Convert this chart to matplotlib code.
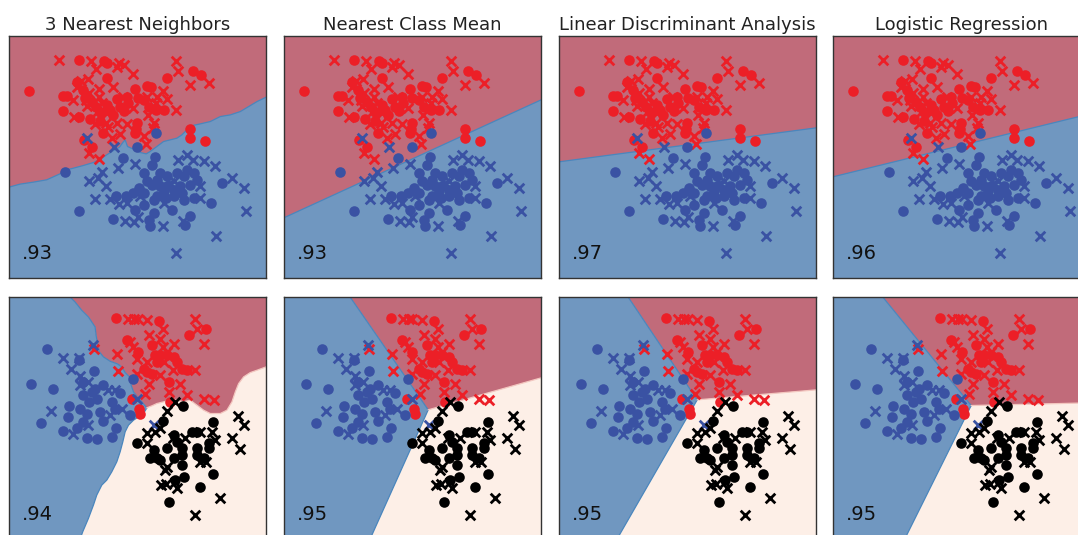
import numpy as np
import matplotlib
matplotlib.use("Agg")
import matplotlib.pyplot as plt

titles = ["3 Nearest Neighbors", "Nearest Class Mean",
          "Linear Discriminant Analysis", "Logistic Regression"]
scores_top = [".93", ".93", ".97", ".96"]
scores_bot = [".94", ".95", ".95", ".95"]

top_red_o = [(237, 180), (313, 183), (320, 190), (578, 213), (603, 224), (500, 234), (322, 233),
             (230, 245), (250, 270), (404, 268), (440, 258), (452, 262), (87, 272), (188, 287),
             (200, 288), (380, 290), (412, 295), (350, 298), (320, 315), (188, 332), (238, 350),
             (372, 332), (445, 320), (468, 330), (492, 330), (270, 358), (300, 362), (410, 368),
             (408, 388), (310, 400), (406, 398), (252, 420), (275, 440), (570, 386), (570, 413),
             (615, 422), (288, 320), (300, 335), (330, 330), (360, 320), (255, 295), (275, 305),
             (340, 345), (385, 310), (430, 300)]
top_red_x = [(178, 180), (272, 183), (288, 208), (358, 190), (372, 195), (352, 200), (398, 222),
             (528, 184), (534, 212), (570, 255), (626, 250), (265, 237), (244, 242), (230, 262),
             (296, 268), (268, 278), (340, 260), (488, 272), (470, 290), (220, 300), (258, 300),
             (296, 290), (370, 292), (440, 290), (500, 298), (468, 308), (305, 310), (260, 318),
             (222, 350), (290, 335), (320, 340), (400, 323), (528, 330), (442, 345), (285, 372),
             (318, 368), (352, 368), (380, 372), (462, 368), (458, 385), (325, 380), (360, 403),
             (432, 408), (335, 415), (437, 432), (298, 478), (268, 458)]
top_blue_o = [(467, 400), (410, 440), (194, 518), (237, 633), (339, 657), (370, 475), (347, 590),
              (378, 590), (405, 630), (430, 615), (415, 565), (440, 545), (455, 555), (450, 678),
              (470, 590), (497, 595), (480, 520), (500, 530), (465, 470), (432, 520), (455, 495),
              (560, 510), (570, 555), (550, 600), (580, 595), (632, 610), (665, 550), (568, 648),
              (555, 675), (515, 630), (460, 640), (445, 660), (520, 570), (540, 560), (500, 560),
              (480, 560), (530, 520), (550, 530), (590, 540), (520, 590), (460, 600), (430, 580),
              (400, 580), (580, 520), (545, 580), (490, 575), (470, 540)]
top_blue_x = [(262, 415), (343, 440), (354, 505), (405, 492), (268, 545), (305, 518), (295, 535),
              (285, 597), (318, 558), (330, 597), (357, 612), (375, 665), (403, 668), (412, 652),
              (488, 680), (520, 545), (532, 480), (560, 465), (578, 480), (610, 485), (645, 500),
              (600, 595), (695, 535), (732, 565), (737, 635), (648, 710), (527, 760), (548, 665),
              (380, 610), (420, 590), (510, 550), (490, 610), (600, 560)]

bot_red_o = [(348, 97), (477, 108), (617, 130), (567, 150), (380, 165), (455, 180), (412, 200),
             (465, 210), (480, 210), (500, 210), (520, 215), (430, 250), (440, 260), (545, 250),
             (560, 255), (455, 265), (505, 290), (510, 350), (397, 342), (415, 370), (418, 385),
             (470, 230), (530, 230)]
bot_red_x = [(385, 100), (402, 100), (412, 100), (440, 103), (583, 100), (590, 130), (612, 175),
             (488, 130), (445, 150), (390, 170), (478, 160), (488, 185), (520, 175), (500, 200),
             (352, 207), (282, 190), (410, 220), (440, 230), (490, 230), (518, 255), (585, 255),
             (355, 257), (410, 265), (445, 295), (480, 270), (540, 295), (505, 320), (560, 330),
             (612, 340), (640, 345), (435, 325), (400, 185)]
bot_blue_o = [(140, 190), (238, 225), (282, 258), (94, 297), (158, 312), (248, 290), (275, 320),
              (310, 298), (290, 340), (360, 322), (335, 350), (345, 370), (390, 390), (206, 362),
              (205, 395), (240, 370), (260, 385), (268, 350), (250, 410), (123, 415), (190, 437),
              (230, 430), (262, 458), (292, 462), (310, 408), (335, 455), (348, 428), (400, 280),
              (300, 380), (285, 310), (250, 330)]
bot_blue_x = [(190, 218), (238, 218), (212, 252), (240, 272), (265, 290), (325, 315), (345, 315),
              (365, 370), (153, 377), (265, 420), (218, 448), (280, 178), (410, 340), (460, 420),
              (240, 300), (330, 390)]
bot_black_o = [(548, 362), (487, 407), (410, 475), (460, 495), (520, 450), (530, 470), (500, 490),
               (545, 490), (575, 440), (590, 440), (638, 410), (625, 475), (625, 490), (590, 490),
               (590, 510), (610, 520), (520, 520), (545, 510), (470, 520), (450, 520), (480, 525),
               (545, 540), (550, 575), (525, 585), (600, 605), (638, 568), (507, 650)]
bot_black_x = [(500, 377), (525, 350), (465, 440), (440, 445), (478, 430), (440, 475), (517, 460),
               (555, 460), (600, 440), (635, 440), (645, 465), (600, 530), (500, 545), (495, 555),
               (525, 590), (483, 600), (497, 598), (530, 610), (660, 640), (583, 690), (712, 392),
               (730, 420), (695, 460), (720, 492), (618, 530)]

# decision boundaries, top row: red above the line
top_bounds = [
    [(27, 562), (60, 553), (100, 547), (140, 540), (180, 522), (200, 510), (220, 505), (250, 497),
     (280, 488), (300, 478), (320, 465), (340, 452), (358, 442), (368, 428), (375, 420), (382, 440),
     (400, 448), (420, 458), (438, 462), (450, 455), (470, 440), (490, 425), (510, 420), (530, 415),
     (545, 405), (558, 392), (572, 378), (600, 372), (630, 365), (660, 350), (690, 345), (720, 335),
     (745, 320), (770, 305), (797, 292)],
    [(27, 654), (797, 300)],
    [(27, 486), (797, 384)],
    [(27, 531), (797, 342)],
]
# bottom row: blue/red edge (top -> junction), red/cream edge (junction -> right), blue/cream edge (junction -> bottom)
bot_blue_red = [
    [(210, 35), (225, 50), (245, 75), (265, 95), (275, 110), (285, 125), (288, 150), (292, 175),
     (298, 200), (310, 215), (330, 228), (352, 236), (365, 245), (375, 262), (388, 275), (393, 300),
     (400, 320), (412, 335), (425, 350), (440, 368)],
    [(225, 35), (459, 374)],
    [(234, 35), (441, 344)],
    [(176, 35), (441, 361)],
]
bot_red_cream = [
    [(440, 368), (455, 362), (470, 355), (490, 350), (510, 345), (530, 345), (550, 350), (570, 345),
     (590, 360), (610, 375), (630, 385), (660, 385), (680, 375), (695, 350), (705, 320), (715, 295),
     (730, 275), (750, 262), (770, 255), (797, 245)],
    [(459, 374), (797, 278)],
    [(441, 344), (797, 314)],
    [(441, 361), (797, 353)],
]
bot_blue_cream = [
    [(440, 368), (430, 385), (415, 395), (400, 405), (385, 420), (375, 440), (368, 470), (360, 500),
     (350, 530), (335, 560), (320, 585), (305, 600), (290, 630), (280, 660), (265, 700), (248, 740),
     (240, 762)],
    [(459, 374), (285, 762)],
    [(441, 344), (201, 762)],
    [(441, 361), (242, 762)],
]

RED_BG, BLUE_BG, CREAM_BG = "#c16b7a", "#7097c0", "#fdefe7"
RED, BLUE, BLACK = "#ec1f27", "#3a52a3", "#000000"
EDGE = "#4a86bd"

W, H = 1078, 535
lefts = [9, 284, 559, 833]
pw, ph = 257, 242

fig = plt.figure(figsize=(W / 100, H / 100), dpi=100)


def pts(a):
    a = np.array(a, dtype=float)
    return a[:, 0], a[:, 1]


def scatter_all(ax, groups):
    for data, color, marker in groups:
        x, y = pts(data)
        if marker == "o":
            ax.scatter(x, y, s=58, c=color, marker="o", linewidths=0, zorder=3)
        else:
            ax.scatter(x, y, s=48, c=color, marker="x", linewidths=2.0, zorder=3)


def style(ax, ymin, ymax):
    ax.set_xlim(27, 797)
    ax.set_ylim(ymax, ymin)
    ax.set_xticks([])
    ax.set_yticks([])
    for sp in ax.spines.values():
        sp.set_color("#333333")
        sp.set_linewidth(1.0)


for i in range(4):
    # top row
    ax = fig.add_axes([lefts[i] / W, 1 - (36 + ph) / H, pw / W, ph / H])
    ax.set_facecolor(BLUE_BG)
    bx, by = pts(top_bounds[i])
    ax.fill(np.r_[bx, 797, 27], np.r_[by, 108, 108], color=RED_BG, lw=0, zorder=1)
    ax.plot(bx, by, color=EDGE, lw=0.9, zorder=2)
    scatter_all(ax, [(top_red_o, RED, "o"), (top_red_x, RED, "x"),
                     (top_blue_o, BLUE, "o"), (top_blue_x, BLUE, "x")])
    style(ax, 108, 835)
    ax.set_title(titles[i], fontsize=13, pad=4, color="#222222")
    ax.text(0.05, 0.06, scores_top[i], transform=ax.transAxes, fontsize=14,
            ha="left", va="bottom", color="#111111")

    # bottom row
    ax = fig.add_axes([lefts[i] / W, 1 - (297 + ph) / H, pw / W, ph / H])
    ax.set_facecolor(CREAM_BG)
    brx, bry = pts(bot_blue_red[i])
    rcx, rcy = pts(bot_red_cream[i])
    bcx, bcy = pts(bot_blue_cream[i])
    ax.fill(np.r_[27, brx, bcx[1:], 27], np.r_[35, bry, bcy[1:], 762],
            color=BLUE_BG, lw=0, zorder=1)
    ax.fill(np.r_[brx, rcx[1:], 797], np.r_[bry, rcy[1:], 35],
            color=RED_BG, lw=0, zorder=1)
    ax.plot(brx, bry, color=EDGE, lw=0.9, zorder=2)
    ax.plot(bcx, bcy, color=EDGE, lw=0.9, zorder=2)
    ax.plot(rcx, rcy, color="#f3c7c0", lw=0.9, zorder=2)
    scatter_all(ax, [(bot_red_o, RED, "o"), (bot_red_x, RED, "x"),
                     (bot_blue_o, BLUE, "o"), (bot_blue_x, BLUE, "x"),
                     (bot_black_o, BLACK, "o"), (bot_black_x, BLACK, "x")])
    style(ax, 35, 762)
    ax.text(0.05, 0.06, scores_bot[i], transform=ax.transAxes, fontsize=14,
            ha="left", va="bottom", color="#111111")

fig.savefig("out.png", dpi=100)
